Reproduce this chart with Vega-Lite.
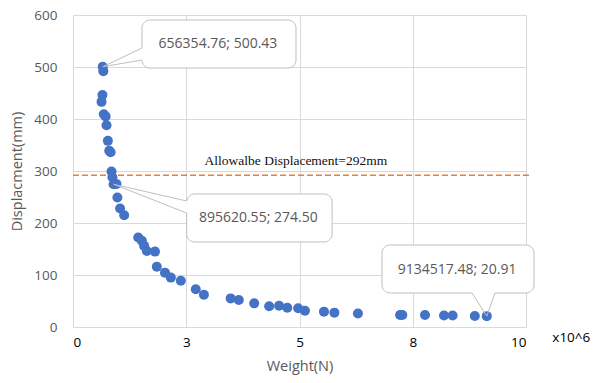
{
  "$schema": "https://vega.github.io/schema/vega-lite/v6.json",
  "width": 453,
  "height": 312,
  "autosize": {"type": "none"},
  "padding": {"left": 73, "top": 15, "right": 72, "bottom": 56},
  "background": "white",
  "config": {
    "view": {"stroke": null},
    "font": "Open Sans",
    "axis": {"gridColor": "#d9d9d9", "gridWidth": 1, "domain": false, "ticks": false, "labelFont": "Open Sans", "titleFont": "Open Sans", "titleFontWeight": "normal", "titleColor": "#595959"}
  },
  "datasets": {
    "pts": [
      {"x": 0.656, "y": 500.43}, {"x": 0.67, "y": 492}, {"x": 0.65, "y": 446}, {"x": 0.63, "y": 433},
      {"x": 0.68, "y": 409}, {"x": 0.72, "y": 405}, {"x": 0.74, "y": 388}, {"x": 0.77, "y": 358},
      {"x": 0.80, "y": 339}, {"x": 0.83, "y": 336}, {"x": 0.85, "y": 299}, {"x": 0.87, "y": 288},
      {"x": 0.8956, "y": 274.5}, {"x": 0.96, "y": 275}, {"x": 0.98, "y": 249}, {"x": 1.04, "y": 228},
      {"x": 1.13, "y": 215}, {"x": 1.44, "y": 172}, {"x": 1.52, "y": 166}, {"x": 1.57, "y": 156},
      {"x": 1.63, "y": 146}, {"x": 1.81, "y": 145}, {"x": 1.85, "y": 116}, {"x": 2.03, "y": 104.5},
      {"x": 2.16, "y": 95}, {"x": 2.38, "y": 89}, {"x": 2.71, "y": 72.5}, {"x": 2.89, "y": 62},
      {"x": 3.48, "y": 55}, {"x": 3.66, "y": 52}, {"x": 4.0, "y": 45.5}, {"x": 4.33, "y": 40},
      {"x": 4.55, "y": 41}, {"x": 4.73, "y": 37}, {"x": 4.97, "y": 36}, {"x": 5.12, "y": 31.4},
      {"x": 5.54, "y": 29.5}, {"x": 5.77, "y": 27.6}, {"x": 6.29, "y": 26}, {"x": 7.22, "y": 23},
      {"x": 7.27, "y": 23}, {"x": 7.77, "y": 23}, {"x": 8.19, "y": 22}, {"x": 8.38, "y": 22},
      {"x": 8.87, "y": 21}, {"x": 9.1345, "y": 20.91}
    ],
    "boxes": [
      {"x": 1.523, "x2": 4.923, "y": 590.4, "y2": 498},
      {"x": 2.51, "x2": 5.72, "y": 255.8, "y2": 163.5},
      {"x": 6.821, "x2": 10.177, "y": 157.7, "y2": 65.4}
    ],
    "gaps": [
      {"id": 1, "x": 1.523, "y": 536.5}, {"id": 1, "x": 1.523, "y": 513.4},
      {"id": 2, "x": 2.51, "y": 242.3}, {"id": 2, "x": 2.51, "y": 219.2},
      {"id": 3, "x": 8.808, "y": 65.4}, {"id": 3, "x": 9.316, "y": 65.4}
    ],
    "wedges": [
      {"id": 1, "o": 1, "x": 1.523, "y": 536.5}, {"id": 1, "o": 2, "x": 0.656, "y": 500.43}, {"id": 1, "o": 3, "x": 1.523, "y": 513.4},
      {"id": 2, "o": 1, "x": 2.51, "y": 242.3}, {"id": 2, "o": 2, "x": 0.8956, "y": 274.5}, {"id": 2, "o": 3, "x": 2.51, "y": 219.2},
      {"id": 3, "o": 1, "x": 8.808, "y": 65.4}, {"id": 3, "o": 2, "x": 9.1345, "y": 20.91}, {"id": 3, "o": 3, "x": 9.316, "y": 65.4}
    ],
    "labels": [
      {"x": 3.2, "y": 544, "t": "656354.76; 500.43"},
      {"x": 4.09, "y": 209.6, "t": "895620.55; 274.50"},
      {"x": 8.48, "y": 109.6, "t": "9134517.48; 20.91"}
    ]
  },
  "layer": [
    {
      "data": {"name": "pts"},
      "mark": {"type": "point", "filled": true, "opacity": 0},
      "encoding": {
        "x": {"field": "x", "type": "quantitative", "scale": {"domain": [0, 10], "nice": false},
          "axis": {"values": [0, 2.5, 5, 7.5, 10], "labelExpr": "datum.value == 2.5 ? '3' : datum.value == 7.5 ? '8' : datum.label", "labelColor": "black", "labelFontSize": 13.5, "labelPadding": 8, "title": "Weight(N)", "titleFontSize": 14.5, "titlePadding": 11}},
        "y": {"field": "y", "type": "quantitative", "scale": {"domain": [0, 600], "nice": false},
          "axis": {"values": [0, 100, 200, 300, 400, 500, 600], "labelColor": "#595959", "labelFontSize": 13.5, "labelPadding": 16, "title": "Displacment(mm)", "titleFontSize": 14.5, "titlePadding": 9}}
      }
    },
    {
      "data": {"values": [{"x": 0, "x2": 10.13, "y": 292}]},
      "mark": {"type": "rule", "color": "#ED7D31", "strokeWidth": 1.5, "strokeDash": [6, 3]},
      "encoding": {"x": {"field": "x", "type": "quantitative"}, "x2": {"field": "x2"}, "y": {"field": "y", "type": "quantitative"}}
    },
    {
      "data": {"values": [{"x": 4.92, "y": 319, "t": "Allowalbe Displacement=292mm"}]},
      "mark": {"type": "text", "font": "Liberation Serif", "fontSize": 13.5, "color": "#111111", "baseline": "middle", "align": "center"},
      "encoding": {"x": {"field": "x", "type": "quantitative"}, "y": {"field": "y", "type": "quantitative"}, "text": {"field": "t"}}
    },
    {
      "data": {"name": "boxes"},
      "mark": {"type": "rect", "fill": "white", "stroke": "#bfbfbf", "strokeWidth": 1, "cornerRadius": 8},
      "encoding": {"x": {"field": "x", "type": "quantitative"}, "x2": {"field": "x2"}, "y": {"field": "y", "type": "quantitative"}, "y2": {"field": "y2"}}
    },
    {
      "data": {"name": "gaps"},
      "mark": {"type": "line", "color": "white", "strokeWidth": 2.5},
      "encoding": {"x": {"field": "x", "type": "quantitative"}, "y": {"field": "y", "type": "quantitative"}, "detail": {"field": "id"}}
    },
    {
      "data": {"name": "pts"},
      "mark": {"type": "circle", "color": "#4472C4", "opacity": 1, "size": 100},
      "encoding": {"x": {"field": "x", "type": "quantitative"}, "y": {"field": "y", "type": "quantitative"}}
    },
    {
      "data": {"name": "wedges"},
      "mark": {"type": "line", "color": "#bfbfbf", "strokeWidth": 1},
      "encoding": {"x": {"field": "x", "type": "quantitative"}, "y": {"field": "y", "type": "quantitative"}, "detail": {"field": "id"}, "order": {"field": "o"}}
    },
    {
      "data": {"name": "labels"},
      "mark": {"type": "text", "font": "Open Sans", "fontSize": 14, "color": "#595959", "baseline": "middle", "align": "center"},
      "encoding": {"x": {"field": "x", "type": "quantitative"}, "y": {"field": "y", "type": "quantitative"}, "text": {"field": "t"}}
    },
    {
      "data": {"values": [{"x": 11.0, "y": -22, "t": "x10^6"}]},
      "mark": {"type": "text", "font": "Open Sans", "fontSize": 13.5, "color": "black", "baseline": "middle", "align": "center"},
      "encoding": {"x": {"field": "x", "type": "quantitative"}, "y": {"field": "y", "type": "quantitative"}, "text": {"field": "t"}}
    }
  ]
}
